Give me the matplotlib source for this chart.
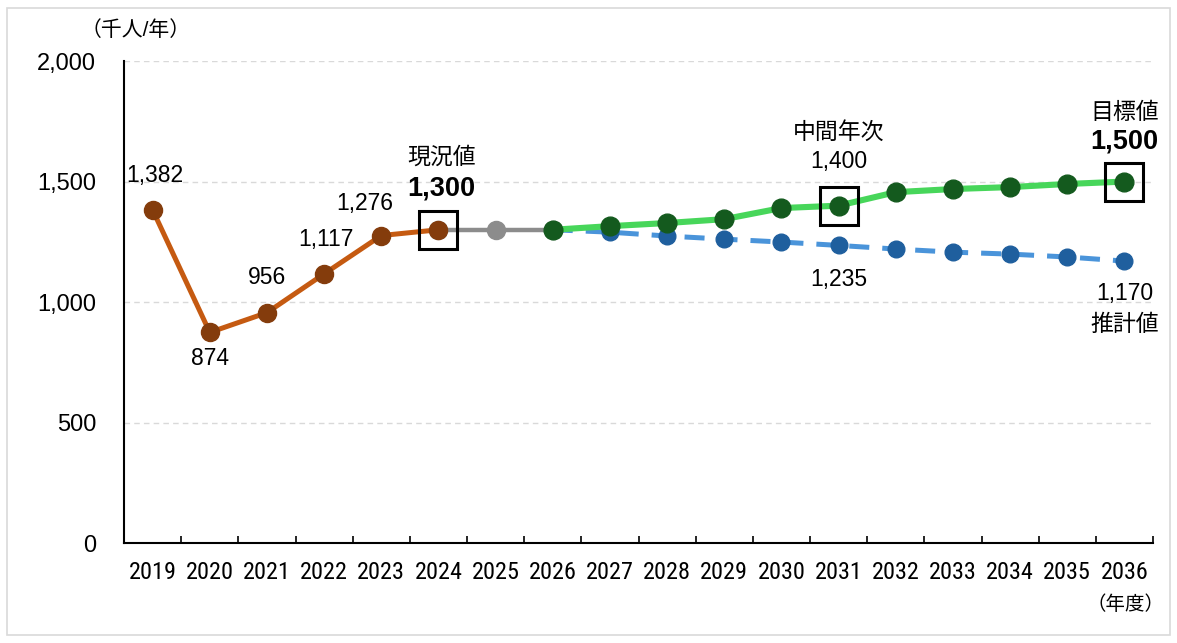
import matplotlib.pyplot as plt
from matplotlib.patches import Rectangle

plt.rcParams['font.family'] = ['Liberation Sans', 'Noto Sans CJK JP', 'DejaVu Sans']

# データ
years = [str(y) for y in range(2019, 2037)]
actual = [1382, 874, 956, 1117, 1276, 1300]          # 2019-2024
bridge = [1300, 1300, 1300]                          # 2024-2026
target = [1300, 1315, 1328, 1344, 1390, 1400, 1456, 1469, 1477, 1490, 1500]   # 2026-2036
estimate = [1300, 1290, 1274, 1261, 1249, 1235, 1220, 1207, 1199, 1187, 1170]  # 2026-2036
y_ticks = [0, 500, 1000, 1500, 2000]

fig = plt.figure(figsize=(11.77, 6.43), dpi=100)
ax = fig.add_axes([0.1054, 0.1555, 0.8742, 0.7495])

x_act = list(range(0, 6))
x_bri = list(range(5, 8))
x_fut = list(range(7, 18))

ax.plot(x_fut, estimate, color='#4A94DA', lw=3.6, dashes=(4, 2.6), zorder=2)
ax.plot(x_fut[1:], estimate[1:], 'o', color='#1F5F9E', ms=12, zorder=3)
ax.plot(x_bri, bridge, color='#8C8C8C', lw=3.2, marker='o', ms=13,
        markerfacecolor='#8C8C8C', markeredgecolor='#8C8C8C', zorder=4)
ax.plot(x_act, actual, color='#C55A11', lw=3.6, zorder=5)
ax.plot(x_act, actual, 'o', color='#843C0C', ms=13, zorder=6)
ax.plot(x_fut, target, color='#47D65A', lw=4.4, zorder=7)
ax.plot(x_fut, target, 'o', color='#145A1E', ms=13.5, zorder=8)

# 枠（現況値・中間年次・目標値）
for xi, yi in [(5, actual[5]), (12, target[5]), (17, target[10])]:
    ax.plot(xi, yi, 's', ms=28, markerfacecolor='none', markeredgecolor='black',
            markeredgewidth=2.2, zorder=9)

# 軸
ax.set_xlim(-0.5, 17.5)
ax.set_ylim(0, 2000)
ax.set_yticks(y_ticks)
ax.set_yticklabels([f'{v:,}' for v in y_ticks], fontsize=17)
ax.tick_params(axis='y', length=0, pad=20)
ax.set_xticks([i - 0.5 for i in range(19)])
ax.set_xticklabels([])
ax.set_xticks(range(18), minor=True)
ax.set_xticklabels(years, minor=True, fontsize=17.5,
                   family=['Roboto Condensed', 'DejaVu Sans'])
ax.tick_params(axis='x', which='major', direction='in', length=5, width=1.2)
ax.tick_params(axis='x', which='minor', length=0, pad=13)
for s in ['top', 'right']:
    ax.spines[s].set_visible(False)
ax.spines['left'].set_linewidth(1.5)
ax.spines['bottom'].set_linewidth(1.5)
ax.grid(axis='y', color='#D9D9D9', ls=(0, (4, 3)), lw=1)
ax.set_axisbelow(True)

# データラベル
lab = dict(ha='center', va='center', fontsize=16.5, textcoords='offset points')
big = dict(lab, fontsize=19.5, fontweight='bold')
ax.annotate(f'{actual[0]:,}', (0, actual[0]), xytext=(1.5, 24.5), **lab)
ax.annotate(f'{actual[1]:,}', (1, actual[1]), xytext=(0, -19), **lab)
ax.annotate(f'{actual[2]:,}', (2, actual[2]), xytext=(0, 25), **lab)
ax.annotate(f'{actual[3]:,}', (3, actual[3]), xytext=(1, 24.5), **lab)
ax.annotate(f'{actual[4]:,}', (4, actual[4]), xytext=(-12, 23), **lab)
ax.annotate('現況値', (5, actual[5]), xytext=(2, 52), **lab)
ax.annotate(f'{actual[5]:,}', (5, actual[5]), xytext=(2, 30), **big)
ax.annotate('中間年次', (12, target[5]), xytext=(0, 53), **lab)
ax.annotate(f'{target[5]:,}', (12, target[5]), xytext=(0, 32), **lab)
ax.annotate(f'{estimate[5]:,}', (12, estimate[5]), xytext=(0, -24.5), **lab)
ax.annotate('目標値', (17, target[10]), xytext=(0, 50), **lab)
ax.annotate(f'{target[10]:,}', (17, target[10]), xytext=(0, 29), **big)
ax.annotate(f'{estimate[10]:,}', (17, estimate[10]), xytext=(0, -23), **lab)
ax.annotate('推計値', (17, estimate[10]), xytext=(0, -46), **lab)

fig.text(0.115, 0.953, '（千人/年）', ha='center', va='center', fontsize=15)
fig.text(0.956, 0.06, '（年度）', ha='center', va='center', fontsize=14)

fig.patches.append(Rectangle((0.006, 0.012), 0.988, 0.976, transform=fig.transFigure,
                             fill=False, edgecolor='#D9D9D9', lw=1.2))

plt.savefig('out.png', dpi=100)
plt.close()
